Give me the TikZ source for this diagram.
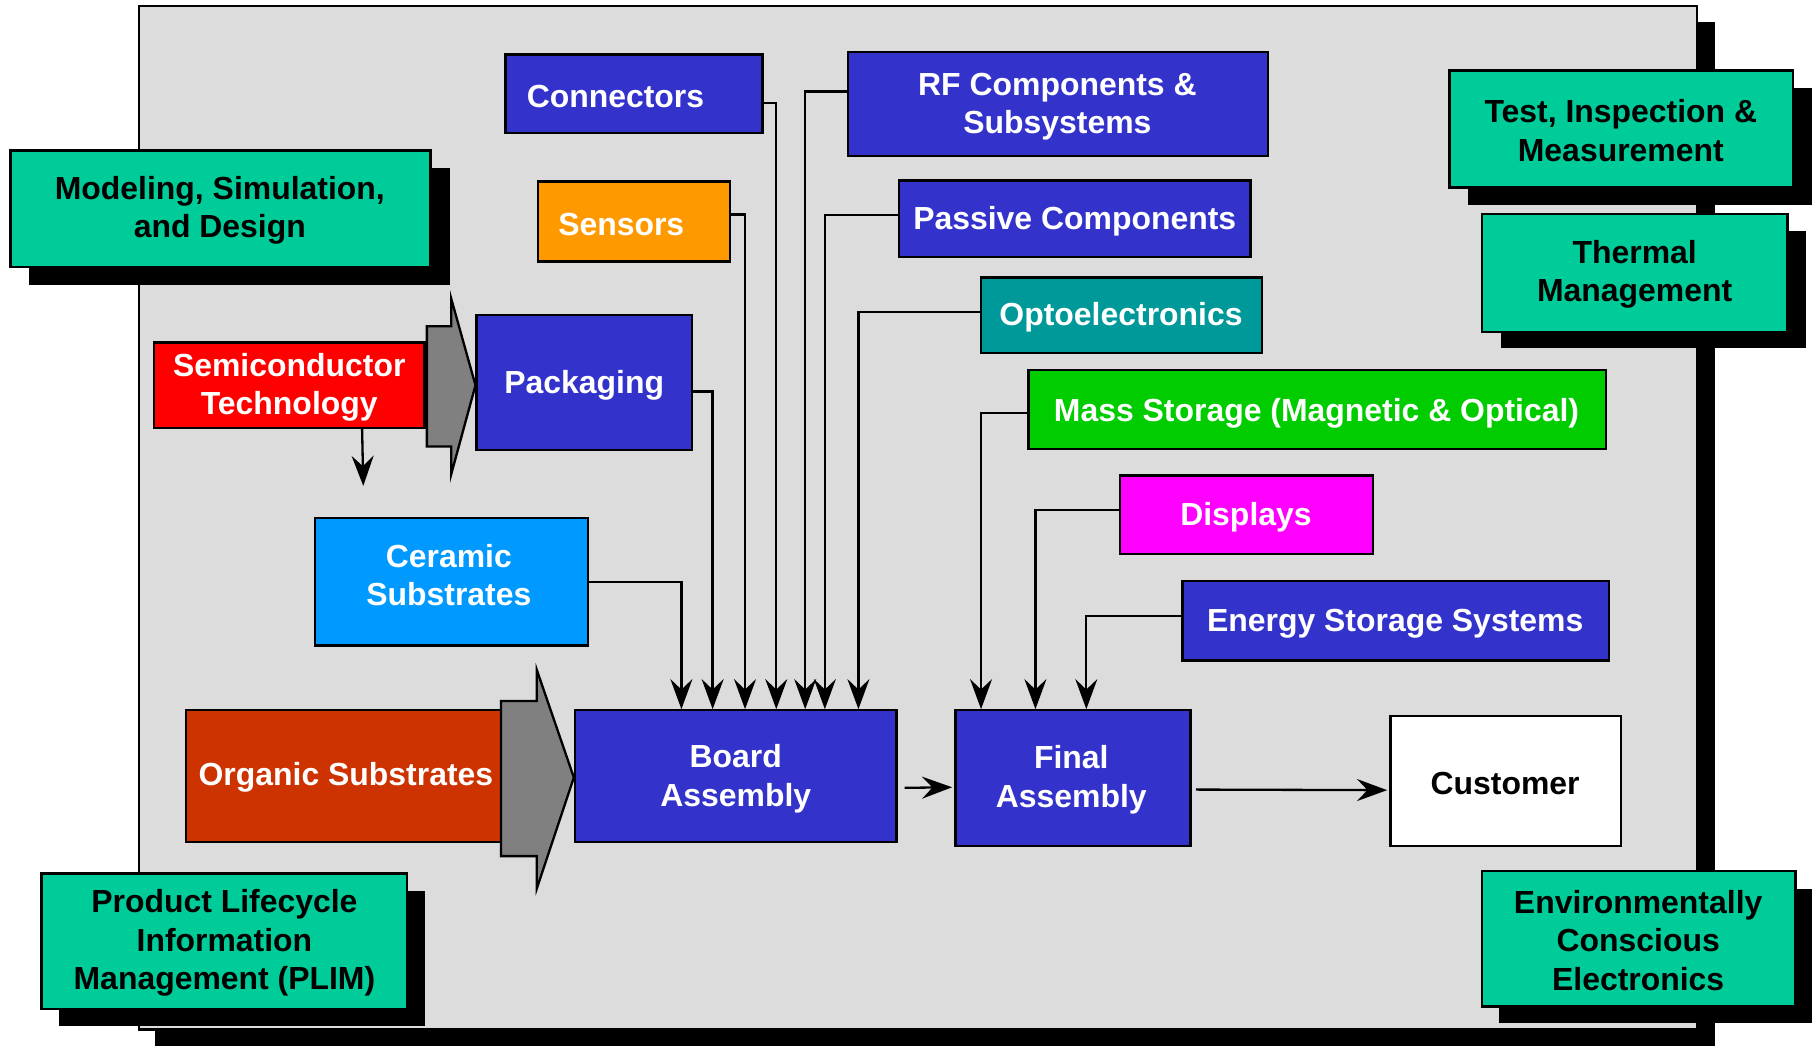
\documentclass[tikz,border=0pt]{standalone}
\usepackage{fontspec}
\setmainfont{Liberation Sans}
\usetikzlibrary{fit,calc,arrows.meta}
\definecolor{panel}{HTML}{DCDCDC}
\definecolor{mgreen}{HTML}{00CC99}
\definecolor{mblue}{HTML}{3333CC}
\definecolor{morange}{HTML}{FF9900}
\definecolor{mteal}{HTML}{009999}
\definecolor{mlime}{HTML}{00CC00}
\definecolor{mmag}{HTML}{FF00FF}
\definecolor{mred}{HTML}{FF0000}
\definecolor{msky}{HTML}{0099FF}
\definecolor{mbrick}{HTML}{CC3300}
\definecolor{mgray}{HTML}{808080}
\begin{document}
\begin{tikzpicture}[x=0.5pt,y=-0.5pt,
  box/.style={draw=black, line width=1pt, inner sep=0pt},
  wt/.style={text=white, font=\bfseries\fontsize{13.8}{16.6}\selectfont, align=center, inner sep=0pt, yshift=-0.5pt},
  bt/.style={text=black, font=\bfseries\fontsize{13.8}{16.6}\selectfont, align=center, inner sep=0pt, yshift=-0.5pt},
  conn/.style={draw=black, line width=1pt, -{Stealth[length=13pt,width=9.5pt,inset=4.5pt]}},
  fat/.style={draw=black, line width=1pt, fill=mgray, line join=miter},
  shadow/.style={fill=black}
]
\useasboundingbox (0,0) rectangle (1568,904);

% main panel with shadow
\fill[shadow] (134,19) rectangle (1482,904);
\draw[fill=panel, line width=1pt] (120,5) rectangle (1467,890);

% green side boxes with shadows
\fill[shadow] (25,145) rectangle (389,246);
\node[box, fill=mgreen, fit={(9,130) (372,231)}] (msd) {};
\node[bt] (msd-t) at (190,181) {Modeling, Simulation,\\and Design};

\fill[shadow] (1269,76) rectangle (1566,177);
\node[box, fill=mgreen, fit={(1253,61) (1550,162)}] (tim) {};
\node[bt] (tim-t) at (1401,112) {Test, Inspection \&\\Measurement};

\fill[shadow] (1297,200) rectangle (1561,301);
\node[box, fill=mgreen, fit={(1281,185) (1545,287)}] (thm) {};
\node[bt] (thm-t) at (1413,236) {Thermal\\Management};

\fill[shadow] (51,770) rectangle (367,887);
\node[box, fill=mgreen, fit={(36,755) (352,872)}] (plim) {};
\node[bt] (plim-t) at (194,814) {Product Lifecycle\\Information\\Management (PLIM)};

\fill[shadow] (1296,768) rectangle (1566,884);
\node[box, fill=mgreen, fit={(1281,753) (1552,870)}] (ece) {};
\node[bt] (ece-t) at (1416,812) {Environmentally\\Conscious\\Electronics};

% component boxes
\node[box, fill=mblue, fit={(437,47) (659,115)}] (con) {};
\node[wt] (con-t) at (532,82) {Connectors};

\node[box, fill=mblue, fit={(733,45) (1096,135)}] (rf) {};
\node[wt] (rf-t) at (914,91) {RF Components \&\\Subsystems};

\node[box, fill=mblue, fit={(777,156) (1081,222)}] (pas) {};
\node[wt] (pas-t) at (929,190) {Passive Components};

\node[box, fill=mteal, fit={(848,240) (1091,305)}] (opt) {};
\node[wt] (opt-t) at (969,273) {Optoelectronics};

\node[box, fill=mlime, fit={(889,320) (1388,388)}] (mas) {};
\node[wt] (mas-t) at (1138,356) {Mass Storage (Magnetic \& Optical)};

\node[box, fill=mmag, fit={(968,411) (1187,479)}] (dis) {};
\node[wt] (dis-t) at (1077,446) {Displays};

\node[box, fill=mblue, fit={(1022,502) (1391,571)}] (ene) {};
\node[wt] (ene-t) at (1206,538) {Energy Storage Systems};

\node[box, fill=morange, fit={(465,157) (631,226)}] (sen) {};
\node[wt] (sen-t) at (537,193) {Sensors};

\node[box, fill=mblue, fit={(412,272) (598,389)}] (pac) {};
\node[wt] (pac-t) at (505,332) {Packaging};

\node[box, fill=mred, fit={(133,296) (367,370)}] (sem) {};
\node[wt] (sem-t) at (250,334) {Semiconductor\\Technology};

\node[box, fill=msky, fit={(272,448) (508,558)}] (cer) {};
\node[wt] (cer-t) at (388,496) {Ceramic\\Substrates};

\node[box, fill=mbrick, fit={(161,614) (433,728)}] (org) {};
\node[wt] (org-t) at (299,671) {Organic Substrates};

\node[box, fill=mblue, fit={(497,614) (775,728)}] (brd) {};
\node[wt] (brd-t) at (636,672) {Board\\Assembly};

\node[box, fill=mblue, fit={(826,614) (1029,731)}] (fin) {};
\node[wt] (fin-t) at (926,673) {Final\\Assembly};

\node[box, fill=white, fit={(1202,619) (1401,731)}] (cus) {};
\node[bt] (cus-t) at (1301,676) {Customer};

% fat gray arrows
\draw[fat] (369,282) -- (390,282) -- (390,258) -- (411,333) -- (390,410) -- (390,386) -- (369,386) -- cycle;
\draw[fat] (433,606) -- (464,606) -- (464,579) -- (496,672) -- (464,768) -- (464,740) -- (433,740) -- cycle;

% semiconductor down arrow
\coordinate (semdown) at (314,420);
\draw[conn] ($(sem.south west)+(181,0)$) -- (semdown);

% feeders to Board Assembly
\draw[conn] (cer.east) -| ($(brd.north west)+(93,0)$);
\draw[conn] ($(pac.east)+(0,8)$) -| ($(brd.north west)+(120,0)$);
\draw[conn] ($(sen.east)+(0,-6)$) -| ($(brd.north west)+(148,0)$);
\draw[conn] ($(con.east)+(0,8)$) -| ($(brd.north west)+(175,0)$);
\draw[conn] ($(rf.west)+(0,-11)$) -| ($(brd.north west)+(200,0)$);
\draw[conn] ($(pas.west)+(0,-3)$) -| ($(brd.north west)+(217,0)$);
\draw[conn] ($(opt.west)+(0,-3)$) -| ($(brd.north west)+(246,0)$);

% feeders to Final Assembly
\draw[conn] ($(mas.west)+(0,3)$) -| ($(fin.north west)+(23,0)$);
\draw[conn] ($(dis.west)+(0,-4)$) -| ($(fin.north west)+(70,0)$);
\draw[conn] ($(ene.west)+(0,-4)$) -| ($(fin.north west)+(114,0)$);

% main flow
\draw[conn] ($(brd.east)+(6,10)$) -- ($(fin.west)+(-2,8)$);
\draw[conn] ($(fin.east)+(4,10)$) -- ($(cus.west)+(-2,8)$);
\end{tikzpicture}
\end{document}
